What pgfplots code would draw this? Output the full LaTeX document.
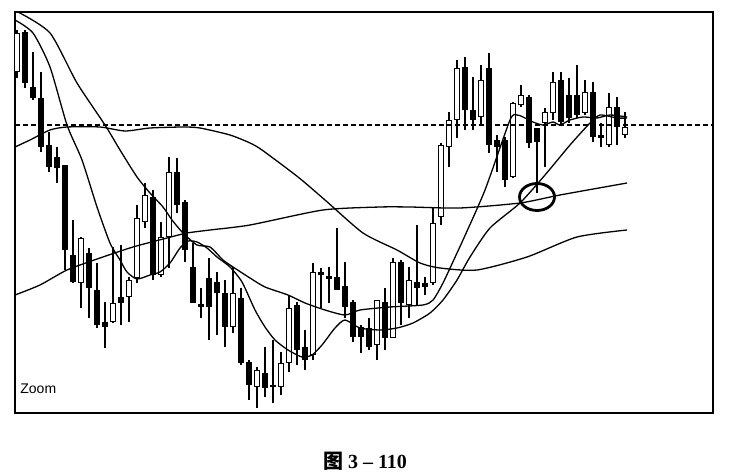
\documentclass[border=0pt]{standalone}
\usepackage{fontspec}
\setmainfont{Liberation Serif}
\newfontfamily\sans{Liberation Sans}
\newfontfamily\cjk{Noto Sans CJK SC}
\usepackage{pgfplots}
\pgfplotsset{compat=1.18}
\usepackage{pgfplotstable}

% daily candles: day, open, high, low, close
\pgfplotstableread{
d  o   h   l   c
1  358 400 352 397
2  398 400 342 347
3  343 378 330 332
4  332 358 278 283
5  285 298 258 263
6  273 283 247 262
7  265 265 160 180
8  175 210 147 148
9  147 193 122 192
10 177 182 112 142
11 140 167 102 105
12 108 128 82  103
13 108 183 107 127
14 133 185 105 127
15 133 153 108 150
16 152 225 147 212
17 208 247 202 235
18 233 240 150 155
19 155 208 153 193
20 193 273 162 258
21 258 272 217 225
22 228 230 168 180
23 163 187 127 127
24 126 142 112 123
25 152 172 90  123
26 148 158 95  137
27 137 150 83  103
28 103 163 97  137
29 132 142 65  67
30 68  70  30  45
31 43  63  22  60
32 57  83  33  42
33 45  90  27  43
34 43  78  35  67
35 67  135 58  122
36 125 128 65  80
37 83  100 60  70
38 75  167 70  158
39 158 162 122 155
40 153 163 127 152
41 153 202 140 140
42 144 168 112 123
43 128 130 88  93
44 103 105 77  93
45 102 112 80  83
46 85  130 70  130
47 128 142 80  92
48 92  172 92  168
49 168 170 105 127
50 125 163 112 150
51 148 205 125 142
52 147 153 135 143
53 147 222 145 207
54 213 287 205 285
55 283 318 263 310
56 310 370 292 362
57 363 373 300 320
58 320 353 300 310
59 313 365 305 350
60 362 377 277 285
61 290 295 258 283
62 290 293 243 250
63 253 328 252 327
64 325 345 323 335
65 333 335 282 287
66 302 302 237 288
67 307 322 263 318
68 317 358 310 348
69 350 358 305 308
70 335 352 307 312
71 335 365 312 315
72 317 350 315 338
73 338 348 288 293
74 295 307 283 292
75 285 337 283 323
76 323 333 285 303
77 295 318 292 303
}\candles

\begin{document}
\begin{tikzpicture}
\useasboundingbox (0,0) rectangle (738pt,474pt);
\begin{axis}[
    at={(15pt,61pt)}, anchor=south west,
    width=698pt, height=401pt, scale only axis,
    xmin=0.75, xmax=88, ymin=17, ymax=418,
    xtick=\empty, ytick=\empty,
    axis line style={line width=1.6pt},
]
% wicks
\addplot [draw=none, mark=none, forget plot,
    error bars/.cd, y dir=both, y explicit, error mark=none,
    error bar style={draw=black, line width=1.2pt}]
    table [x=d, y expr={(\thisrow{h}+\thisrow{l})/2},
           y error expr={(\thisrow{h}-\thisrow{l})/2}] {\candles};
% bodies
\addplot [draw=none, mark=none, forget plot,
    error bars/.cd, y dir=both, y explicit, error mark=none,
    error bar style={draw=black, line width=5.8pt}]
    table [x=d, y expr={(\thisrow{o}+\thisrow{c})/2},
           y error expr={max(abs(\thisrow{o}-\thisrow{c})/2,1.2)}] {\candles};
% hollow (rising) bodies
\addplot [draw=none, mark=none, forget plot,
    restrict expr to domain={\thisrow{c}-\thisrow{o}}{1:1000},
    error bars/.cd, y dir=both, y explicit, error mark=none,
    error bar style={draw=white, line width=3.2pt}]
    table [x=d, y expr={(\thisrow{o}+\thisrow{c})/2},
           y error expr={(\thisrow{c}-\thisrow{o})/2-1.3}] {\candles};

% reference level
\addplot [black, line width=1.2pt, dash pattern=on 5pt off 3pt, forget plot]
    coordinates {(0.75,305) (88,305)};

% moving averages
\addplot [black, line width=1.3pt, smooth, tension=0.4] coordinates {
(0.75,410) (3,397) (5.125,363) (7.25,305) (9.125,270) (11,223) (12.625,187)
(13.875,170) (14.75,158) (16,151) (17.625,155) (18.875,158) (20.125,167)
(21.375,182) (22.375,189) (23.5,188) (24.75,182) (26,173) (27.625,163)
(29.125,148) (30.75,120) (32,103) (33.25,90) (34.875,80) (36.625,73)
(37.875,75) (39.125,85) (40.75,102) (42,110) (43.875,102) (46.375,100)
(48.5,102) (50.5,107) (52.625,117) (54.25,130) (56,150) (57.625,173)
(60.125,202) (63.875,227) (67,255) (70.125,285) (72.625,307) (73.875,315)
(76,312) (77.25,312)};
\addplot [black, line width=1.3pt, smooth, tension=0.4] coordinates {
(1.125,418) (5.125,397) (8.5,347) (12,305) (13.875,280) (16,253) (17.625,237)
(19.25,223) (20.375,210) (21.75,197) (23.5,185) (25.125,183) (26.75,170)
(28,163) (30.125,152) (32,143) (34.875,135) (37,127) (39.5,120) (42,115)
(43.875,120) (47.625,123) (51.75,125) (53,130) (54.25,147) (56,177)
(56.75,190) (59.5,240) (62.625,310) (63.5,315) (64.25,313) (65.5,308)
(66.75,305) (68,308) (68.875,305) (70.125,310) (71.75,313) (73.5,312)
(75.125,315) (77.25,313)};
\addplot [black, line width=1.3pt, smooth, tension=0.4] coordinates {
(0.75,283) (2.625,290) (5.125,300) (7.25,303) (11.375,303) (14.5,299)
(17.625,302) (21.75,303) (23.875,302) (27.625,295) (30.125,287) (31.625,280)
(36.125,253) (39.5,230) (44.25,197) (48.5,180) (51.375,167) (53.875,162)
(58.5,160) (64.75,173) (71,193) (77.25,200)};
\addplot [black, line width=1.3pt, smooth, tension=0.4] coordinates {
(0.75,135) (3.875,145) (7.25,160) (11.375,172) (15.5,183) (19.75,192)
(22.25,197) (25.125,200) (30.125,205) (39.25,220) (46.375,223) (50.125,223)
(56.375,222) (63.875,227) (68.875,235) (77.25,247)};

% marked crossing
\draw [line width=2.8pt] (axis cs:66,233) ellipse [x radius=17.5pt, y radius=13.5pt];
\node [anchor=base west, font=\sans\fontsize{14}{14}\selectfont, inner sep=0pt]
    at (axis cs:1.4,37) {Zoom};
\end{axis}
\node [font=\fontsize{20}{20}\selectfont\bfseries, inner sep=0pt] at (365pt,13pt)
    {{\cjk 图} 3 – 110};
\end{tikzpicture}
\end{document}
